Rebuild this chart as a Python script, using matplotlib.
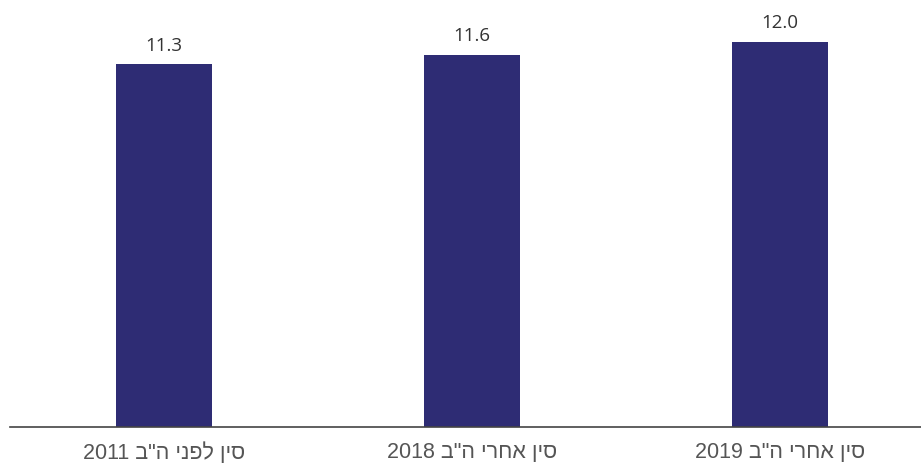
import matplotlib
matplotlib.use("Agg")
import matplotlib.pyplot as plt

categories = ["סין לפני ה\"ב 2011", "סין אחרי ה\"ב 2018", "סין אחרי ה\"ב 2019"]
values = [11.3, 11.6, 12.0]

def visual(s):
    # convert logical RTL string with trailing number into visual LTR order
    words = s.split(" ")
    heb = [w for w in words if not w.isdigit()]
    nums = [w for w in words if w.isdigit()]
    heb_vis = " ".join(w[::-1] for w in reversed(heb))
    return " ".join(nums + [heb_vis])

plt.rcParams['font.family'] = ['Open Sans', 'DejaVu Sans']

fig = plt.figure(figsize=(9.21, 4.66), dpi=100)
ax = fig.add_axes([10/921, 39/466, 911/921, 427/466])
x = list(range(len(values)))
ax.bar(x, values, width=0.312, color="#2E2C74")
for xi, v in zip(x, values):
    ax.annotate(f"{v:.1f}", (xi, v), xytext=(0, 7), textcoords="offset points",
                ha="center", va="bottom", fontsize=13.5, color="#333333")
ax.set_xlim(-0.5, 2.458)
ax.set_ylim(0, 13.31)
ax.set_xticks(x)
ax.set_xticklabels([visual(c) for c in categories], fontsize=15.5, color="#555555",
                   family=['Liberation Sans', 'DejaVu Sans'])
ax.tick_params(axis='x', length=0, pad=11)
ax.set_yticks([])
for s in ["top", "right", "left"]:
    ax.spines[s].set_visible(False)
ax.spines["bottom"].set_color("#444444")
ax.spines["bottom"].set_linewidth(1.2)
fig.savefig("out.png", dpi=100)
